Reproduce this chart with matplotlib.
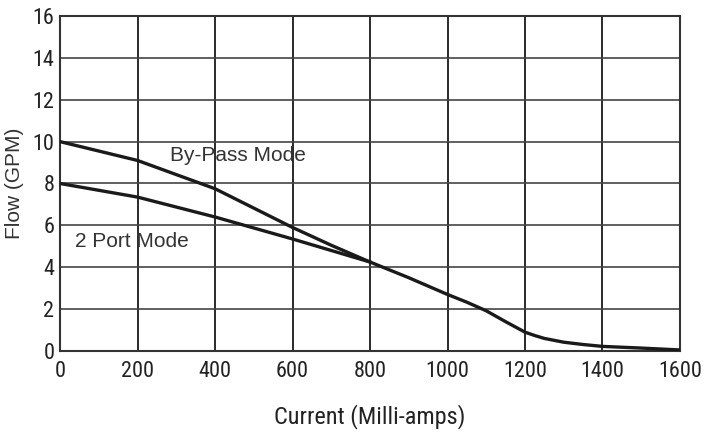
"""
Flow vs current chart
"""
import matplotlib.pyplot as plt

# 데이터 (Current mA -> Flow GPM)
bypass_current = [0, 200, 400, 600, 700, 800, 900, 1000, 1050, 1100, 1150, 1200, 1225, 1250,
                  1300, 1350, 1400, 1500, 1600]
bypass_flow = [10.0, 9.1, 7.75, 5.9, 5.05, 4.25, 3.5, 2.7, 2.33, 1.92, 1.4, 0.9, 0.74, 0.6,
               0.42, 0.31, 0.22, 0.14, 0.05]

port2_current = [0, 200, 400, 600, 700, 800]
port2_flow = [8.0, 7.35, 6.4, 5.35, 4.8, 4.25]

x_ticks = [0, 200, 400, 600, 800, 1000, 1200, 1400, 1600]
y_ticks = [0, 2, 4, 6, 8, 10, 12, 14, 16]

narrow = ['Liberation Sans Narrow', 'Roboto Condensed', 'Open Sans Condensed',
          'Liberation Sans', 'DejaVu Sans']
regular = ['Liberation Sans', 'DejaVu Sans']

fig = plt.figure(figsize=(7.13, 4.32), dpi=100)
ax = fig.add_axes([0.0842, 0.1875, 0.8695, 0.7755])

# 그리드
for x in x_ticks[1:-1]:
    ax.axvline(x, color='#2a2a2a', linewidth=1.4, zorder=1)
for y in y_ticks[1:-1]:
    ax.axhline(y, color='#444444', linewidth=1.2, zorder=1)

# 곡선
ax.plot(bypass_current, bypass_flow, color='#1a1a1a', linewidth=2.4, zorder=3,
        solid_joinstyle='round')
ax.plot(port2_current, port2_flow, color='#1a1a1a', linewidth=2.4, zorder=3,
        solid_joinstyle='round')

ax.text(285, 9.35, 'By-Pass Mode', fontsize=15, family=regular, color='#333333',
        ha='left', va='center', zorder=4)
ax.text(38, 5.25, '2 Port Mode', fontsize=15, family=regular, color='#333333',
        ha='left', va='center', zorder=4)

ax.set_xlim(0, 1600)
ax.set_ylim(0, 16)
ax.set_xticks(x_ticks)
ax.set_yticks(y_ticks)
ax.tick_params(length=0, labelsize=16, colors='#222222')
ax.tick_params(axis='x', pad=7)
ax.tick_params(axis='y', pad=4)
for lbl in ax.get_xticklabels() + ax.get_yticklabels():
    lbl.set_family(narrow)

for s in ax.spines.values():
    s.set_color('#333333')
    s.set_linewidth(1.5)

ax.set_xlabel('Current (Milli-amps)', fontsize=17.5, family=narrow, color='#222222', labelpad=16)
ax.set_ylabel('Flow (GPM)', fontsize=15, family=regular, color='#333333', labelpad=6)

plt.savefig('out.png', dpi=100, facecolor='white')
plt.close()
